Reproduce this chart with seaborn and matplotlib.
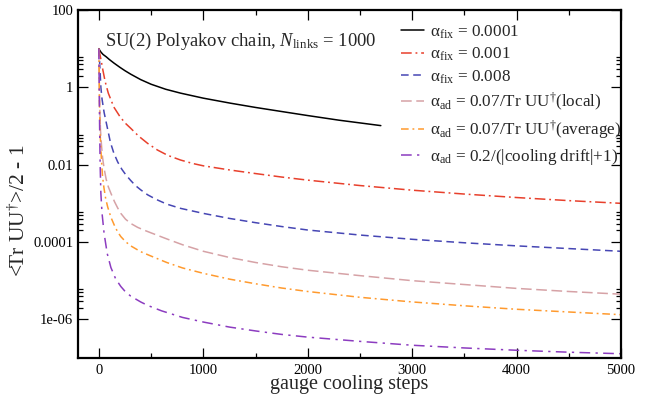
import numpy as np
import pandas as pd
import matplotlib
matplotlib.use("Agg")
import matplotlib.pyplot as plt
import seaborn as sns
from matplotlib.ticker import FixedLocator, FixedFormatter, MultipleLocator, NullFormatter

# ---------------- data (values are log10 of <Tr UU+>/2 - 1) ----------------
steps_fix1 = [0, 10, 20, 40, 70, 100, 143, 200, 250, 305, 400, 500, 640, 782, 1000, 1260, 1500, 1737, 2000, 2300, 2700]
log_fix1 = [1.0, 0.95, 0.91, 0.85, 0.79, 0.72, 0.63, 0.52, 0.43, 0.34, 0.20, 0.08, -0.05, -0.15, -0.28,
            -0.41, -0.52, -0.62, -0.73, -0.85, -0.99]

steps_fix2 = [0, 10, 20, 38, 60, 90, 143, 200, 250, 305, 380, 467, 560, 660, 782, 900, 1000, 1260, 1500,
              1750, 2000, 2500, 3000, 3500, 4000, 4500, 5000]
log_fix2 = [1.0, 0.85, 0.72, 0.45, 0.15, -0.15, -0.51, -0.75, -0.92, -1.06, -1.26, -1.45, -1.62, -1.76,
            -1.88, -1.97, -2.03, -2.14, -2.23, -2.32, -2.40, -2.54, -2.66, -2.76, -2.85, -2.93, -3.0]

steps_fix3 = [0, 5, 10, 19, 30, 50, 86, 110, 143, 180, 220, 260, 305, 350, 400, 467, 550, 650, 782, 900,
              1000, 1250, 1500, 1750, 2000, 2500, 3000, 3500, 4000, 4500, 5000]
log_fix3 = [1.0, 0.75, 0.5, 0.0, -0.3, -0.65, -1.11, -1.42, -1.70, -1.93, -2.12, -2.27, -2.41, -2.54,
            -2.65, -2.78, -2.90, -3.02, -3.13, -3.20, -3.26, -3.39, -3.50, -3.60, -3.69, -3.82, -3.93,
            -4.02, -4.10, -4.17, -4.24]

steps_loc = [0, 3, 8, 15, 25, 35, 50, 70, 90, 115, 150, 180, 210, 255, 305, 370, 430, 496, 650, 800,
             1000, 1250, 1500, 1750, 2000, 2500, 3000, 3500, 4000, 4500, 5000]
log_loc = [1.0, 0.3, -0.5, -1.1, -1.5, -1.81, -2.1, -2.38, -2.57, -2.74, -2.96, -3.12, -3.26, -3.41,
           -3.52, -3.62, -3.69, -3.76, -3.92, -4.07, -4.24, -4.40, -4.53, -4.64, -4.73, -4.87, -5.0,
           -5.10, -5.20, -5.28, -5.35]

steps_avg = [0, 5, 12, 25, 35, 48, 65, 85, 115, 150, 180, 210, 255, 305, 400, 496, 650, 800, 1000, 1250,
             1500, 1750, 2000, 2500, 3000, 3500, 4000, 4500, 5000]
log_avg = [1.0, -0.3, -1.2, -1.9, -2.3, -2.59, -2.88, -3.1, -3.36, -3.58, -3.74, -3.86, -3.99, -4.10,
           -4.25, -4.36, -4.53, -4.67, -4.81, -4.96, -5.08, -5.19, -5.28, -5.43, -5.55, -5.65, -5.74,
           -5.81, -5.88]

steps_drift = [0, 3, 7, 12, 19, 30, 50, 80, 115, 160, 210, 255, 305, 400, 467, 600, 800, 1000, 1250,
               1500, 1750, 2000, 2500, 3000, 3500, 4000, 4500, 5000]
log_drift = [1.0, 0.0, -1.0, -2.0, -2.74, -3.25, -3.78, -4.30, -4.66, -4.95, -5.15, -5.29, -5.40, -5.55,
             -5.64, -5.78, -5.95, -6.07, -6.20, -6.30, -6.39, -6.46, -6.57, -6.67, -6.74, -6.80, -6.85,
             -6.89]

labels = [
    r"α$_\mathrm{fix}$ = 0.0001",
    r"α$_\mathrm{fix}$ = 0.001",
    r"α$_\mathrm{fix}$ = 0.008",
    r"α$_\mathrm{ad}$ = 0.07/Tr UU$^{\dagger}$(local)",
    r"α$_\mathrm{ad}$ = 0.07/Tr UU$^{\dagger}$(average)",
    r"α$_\mathrm{ad}$ = 0.2/(|cooling drift|+1)",
]

ytick_vals = [1e-6, 1e-4, 1e-2, 1, 100]
ytick_labels = ["1e-06", "0.0001", "0.01", "1", "100"]
xtick_vals = [0, 1000, 2000, 3000, 4000, 5000]

# ---------------- style ----------------
sns.set_theme(style="ticks")
plt.rcParams["font.family"] = ["Liberation Serif", "DejaVu Serif"]
plt.rcParams["mathtext.fontset"] = "custom"
plt.rcParams["mathtext.rm"] = "Liberation Serif"
plt.rcParams["mathtext.it"] = "Liberation Serif:italic"
plt.rcParams["mathtext.bf"] = "Liberation Serif:bold"

colors = ["#000000", "#e8402c", "#4646b4", "#d6a2a6", "#ff9a2e", "#8c3cc0"]
lw = 1.1
dashes = [
    None,
    (7, 2.5, 1.2, 2.5),
    (5, 3),
    (7, 3),
    (5, 2.5, 1.2, 2.5),
    (7, 3.5, 1.5, 3.5),
]

fig = plt.figure(figsize=(6.6, 3.99), dpi=100)
ax = fig.add_axes([78 / 660, 1 - 358 / 399, (621 - 78) / 660, (358 - 10) / 399])

series = [
    (steps_fix1, log_fix1),
    (steps_fix2, log_fix2),
    (steps_fix3, log_fix3),
    (steps_loc, log_loc),
    (steps_avg, log_avg),
    (steps_drift, log_drift),
]

for (s, lv), lab, c, d in zip(series, labels, colors, dashes):
    df = pd.DataFrame({"step": s, "val": np.power(10.0, lv)})
    sns.lineplot(data=df, x="step", y="val", ax=ax, color=c, linewidth=lw, label=lab)
    ln = ax.get_lines()[-1]
    if d is not None:
        ln.set_dashes(d)

ax.set_yscale("log")
ax.set_xlim(-200, 5000)
ax.set_ylim(1e-7, 100)

ax.yaxis.set_major_locator(FixedLocator(ytick_vals))
ax.yaxis.set_major_formatter(FixedFormatter(ytick_labels))
minor_y = [m * b for b in [1e-6, 1e-4, 1e-2, 1] for m in [2, 3, 4, 5, 6]]
ax.yaxis.set_minor_locator(FixedLocator(minor_y))
ax.yaxis.set_minor_formatter(NullFormatter())
ax.xaxis.set_major_locator(FixedLocator(xtick_vals))
ax.xaxis.set_minor_locator(MultipleLocator(500))

ax.tick_params(which="both", direction="in", top=True, right=True, labelsize=10.5, width=0.9, colors="black")
ax.tick_params(which="major", length=7)
ax.tick_params(which="minor", length=3.5)
ax.tick_params(axis="x", pad=4)
for sp in ax.spines.values():
    sp.set_linewidth(1.6)
    sp.set_color("black")

ax.set_xlabel("gauge cooling steps", fontsize=14.5, labelpad=-1)
ax.set_ylabel(r"<Tr UU$^{\dagger}$>/2 - 1", fontsize=15.5)
ax.yaxis.set_label_coords(-0.088, 0.425)

ax.text(0.05, 0.91, r"SU(2) Polyakov chain, $N_{\mathrm{links}}$ = 1000",
        transform=ax.transAxes, fontsize=13.4, va="center", ha="left")

leg = ax.legend(loc="upper left", bbox_to_anchor=(0.594, 0.962), frameon=False,
                fontsize=12.3, handlelength=1.35, handletextpad=0.4, labelspacing=0.3,
                borderpad=0, borderaxespad=0)

fig.savefig("out.png", dpi=100)
